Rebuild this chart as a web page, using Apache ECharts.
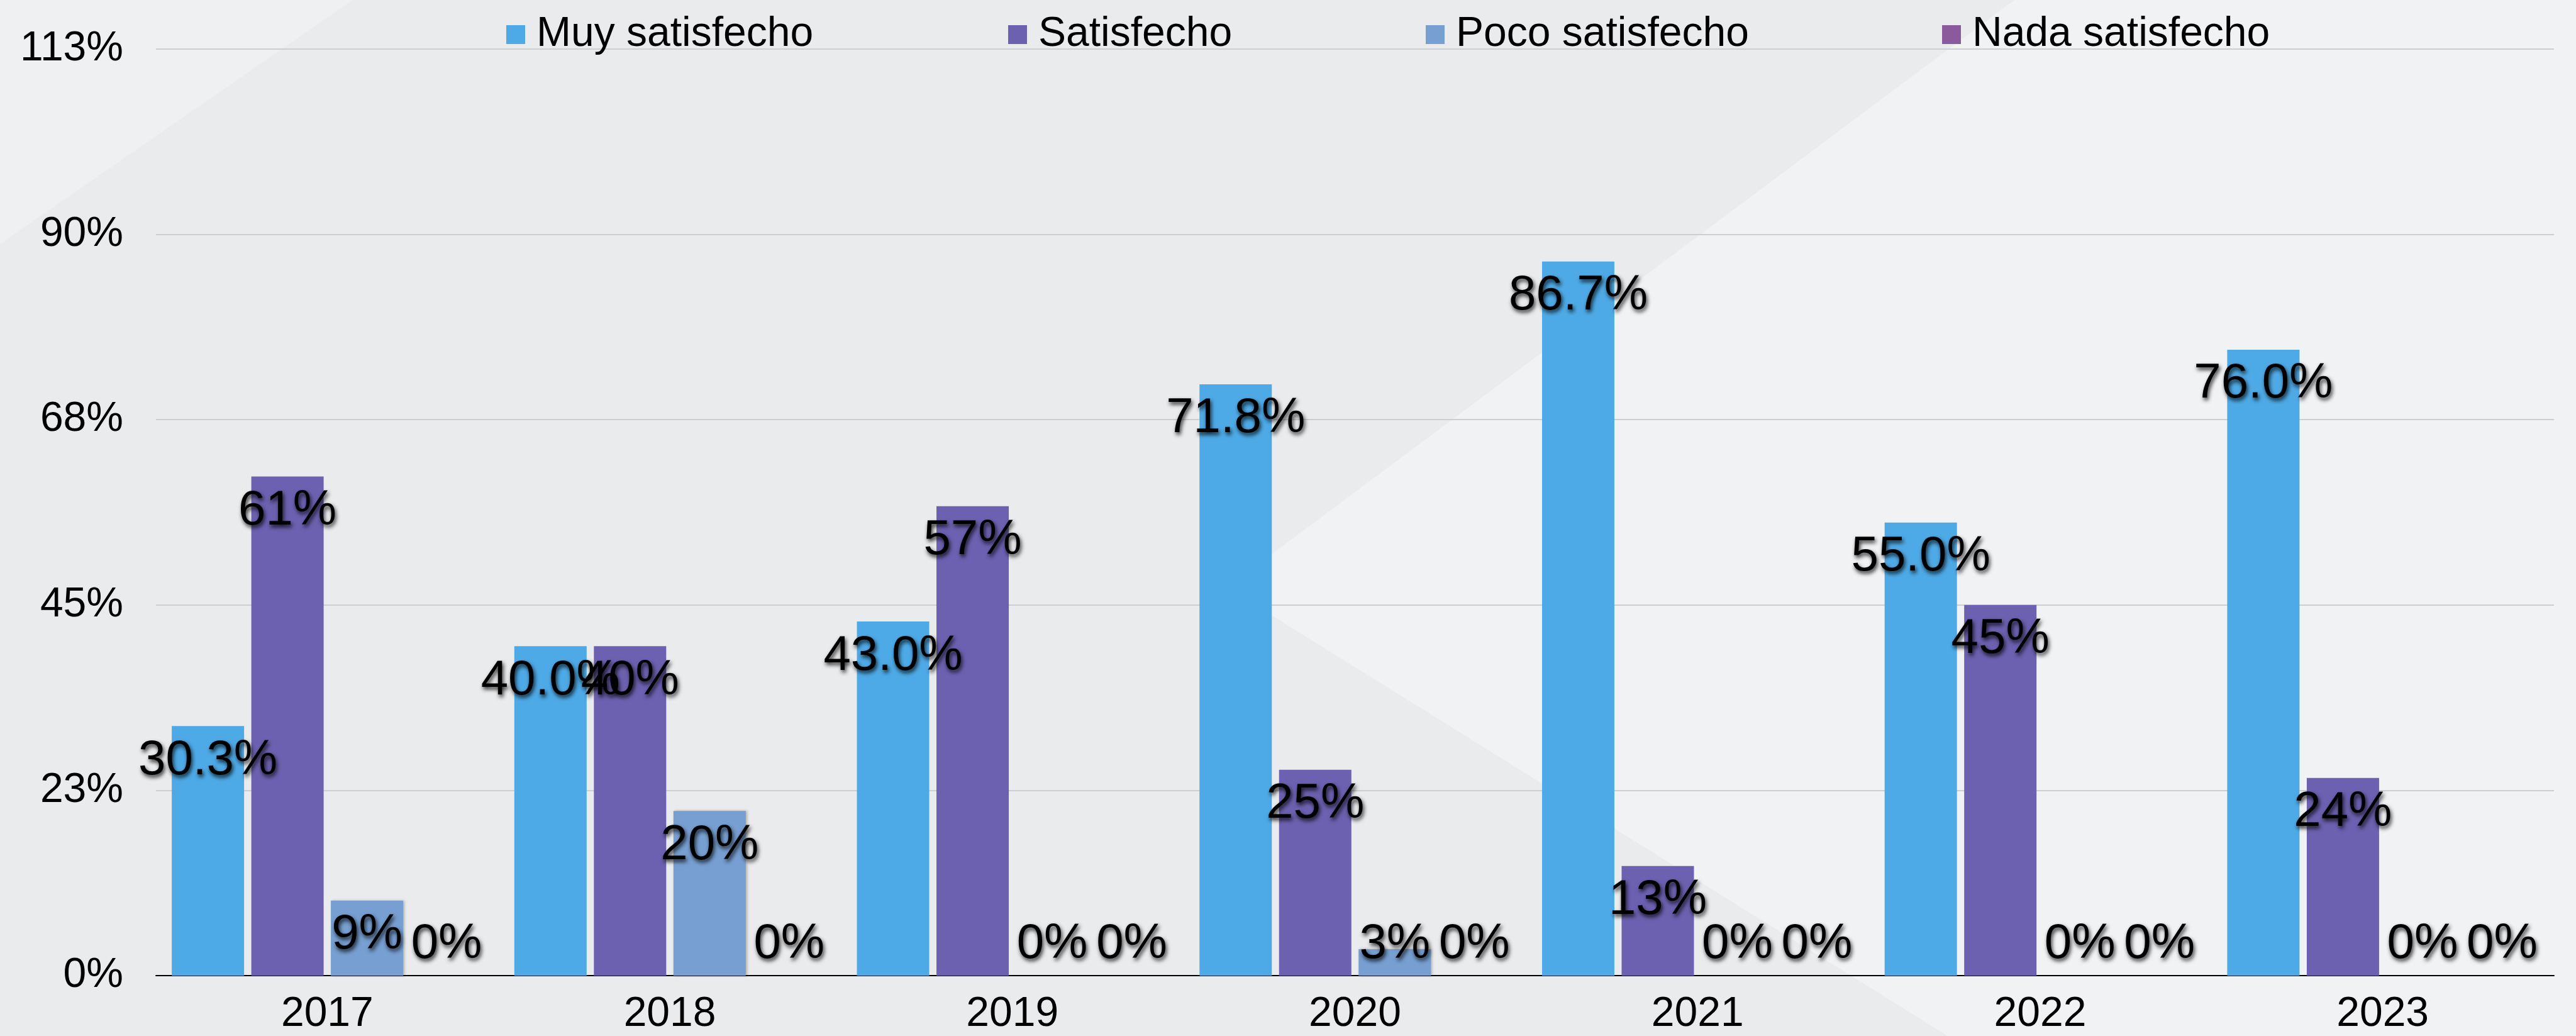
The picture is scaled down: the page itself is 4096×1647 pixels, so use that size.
<!DOCTYPE html>
<html>
<head>
<meta charset="utf-8">
<script src="https://cdn.jsdelivr.net/npm/echarts@6/dist/echarts.min.js"></script>
<style>
  html, body { margin: 0; padding: 0; }
  #main { width: 4096px; height: 1647px; }
</style>
</head>
<body>
<div id="main"></div>
<script>
// datos del gráfico
var categories = ['2017', '2018', '2019', '2020', '2021', '2022', '2023'];
var seriesNames = ['Muy satisfecho', 'Satisfecho', 'Poco satisfecho', 'Nada satisfecho'];
var muySatisfecho = [30.3, 40.0, 43.0, 71.8, 86.7, 55.0, 76.0];
var satisfecho = [60.6, 40.0, 57.0, 25.0, 13.3, 45.0, 24.0];
var pocoSatisfecho = [9.1, 20.0, 0, 3.2, 0, 0, 0];
var nadaSatisfecho = [0, 0, 0, 0, 0, 0, 0];
var labelDecimals = [1, 0, 0, 0];
var yMin = 0, yMax = 112.5, yStep = 22.5;

var colors = ['#4eaae6', '#6c61b0', '#779fd1', '#8a5a9c'];
var legendLeft = [800, 1598, 2262, 3083];
var FONT = '"Liberation Sans", Arial, sans-serif';

var myChart = echarts.init(document.getElementById('main'));

// etiqueta dentro de la barra; si la barra es muy baja, se apoya sobre el eje
function itemFor(v) {
    var tall = v >= 8;
    return {
        value: v,
        label: tall ? { position: 'insideTop', distance: 16 }
                    : { position: 'insideBottom', distance: 11 }
    };
}

var allValues = [muySatisfecho, satisfecho, pocoSatisfecho, nadaSatisfecho];

var series = seriesNames.map(function (name, i) {
    var s = {
        name: name,
        type: 'bar',
        barWidth: 115,
        barGap: '10%',
        itemStyle: { color: colors[i] },
        label: {
            show: true,
            color: '#000',
            fontFamily: FONT,
            fontSize: 78,
            lineHeight: 78,
            textShadowColor: 'rgba(0,0,0,0.8)',
            textShadowBlur: 6,
            textShadowOffsetX: 2,
            textShadowOffsetY: 4,
            formatter: function (p) { return p.value.toFixed(labelDecimals[i]) + '%'; }
        },
        data: allValues[i].map(itemFor)
    };
    if (i === 2) {
        s.itemStyle.shadowColor = 'rgba(0,0,0,0.25)';
        s.itemStyle.shadowBlur = 4;
        s.itemStyle.shadowOffsetX = 2;
    }
    return s;
});

var legends = seriesNames.map(function (name, i) {
    return {
        data: [name],
        left: legendLeft[i],
        top: 17,
        itemWidth: 30,
        itemHeight: 30,
        icon: 'rect',
        selectedMode: false,
        textStyle: {
            fontFamily: FONT,
            fontSize: 66,
            lineHeight: 66,
            color: '#000',
            padding: [0, 0, 0, 13]
        }
    };
});

var option = {
    backgroundColor: '#eaebed',
    animation: false,
    graphic: [
        {
            type: 'polygon', z: -100, silent: true,
            shape: { points: [[0, 0], [561, 0], [0, 388]] },
            style: { fill: '#eef0f2' }
        },
        {
            type: 'polygon', z: -100, silent: true,
            shape: { points: [[3203, 0], [4096, 0], [4096, 1647], [3097, 1647], [1951, 934]] },
            style: { fill: '#f1f2f4' }
        }
    ],
    legend: legends,
    grid: {
        left: 248,
        right: 35,
        top: 78,
        bottom: 96,
        containLabel: false
    },
    xAxis: {
        type: 'category',
        data: categories,
        axisLine: { show: true, lineStyle: { color: '#000', width: 2 } },
        axisTick: { show: false },
        axisLabel: {
            margin: 29,
            fontFamily: FONT,
            fontSize: 66,
            lineHeight: 66,
            color: '#000'
        }
    },
    yAxis: {
        type: 'value',
        min: yMin,
        max: yMax,
        interval: yStep,
        axisLine: { show: false },
        axisTick: { show: false },
        splitLine: { lineStyle: { color: '#cdced2', width: 2 } },
        axisLabel: {
            margin: 52,
            fontFamily: FONT,
            fontSize: 66,
            color: '#000',
            formatter: function (v) { return Math.round(v) + '%'; }
        }
    },
    series: series
};

myChart.setOption(option);
</script>
</body>
</html>
